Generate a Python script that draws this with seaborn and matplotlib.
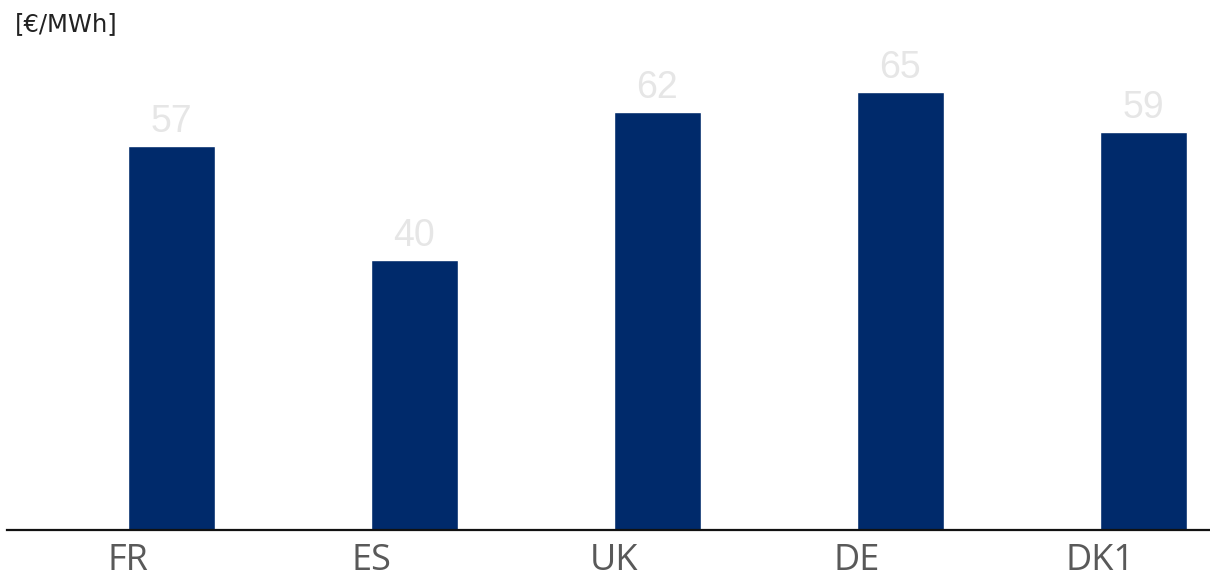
import matplotlib
matplotlib.use("Agg")
import matplotlib.pyplot as plt
import seaborn as sns
import pandas as pd

# Average price per market
markets = ["FR", "ES", "UK", "DE", "DK1"]
prices = [57, 40, 62, 65, 59]
unit_label = "[€/MWh]"

bar_color = "#002A6B"
value_color = "#E6E6E6"
tick_color = "#595959"
bar_width = 0.358

sns.set_theme(style="white")
plt.rcParams["font.family"] = ["Open Sans", "DejaVu Sans"]

df = pd.DataFrame({"market": markets, "price": prices})

fig = plt.figure(figsize=(12.10, 5.79), dpi=100)
ax = fig.add_axes([7 / 1210, (579 - 529.5) / 579, 1 - 7 / 1210, 529.5 / 579])

sns.barplot(data=df, x="market", y="price", color=bar_color, width=bar_width,
            saturation=1, ax=ax, order=markets)

ax.set_xlim(-0.677, len(markets) - 1 + 0.274)
ax.set_ylim(0, 78.6)

for c in ax.containers:
    ax.bar_label(c, labels=[f"{v:g}" for v in prices], padding=4,
                 color=value_color, fontsize=27, family="Liberation Sans")

# category names sit under the left edge of each bar
ax.set_xticks([i - bar_width / 2 for i in range(len(markets))])
ax.set_xticklabels(markets, fontsize=26, color=tick_color)
ax.tick_params(axis="x", length=0, pad=10)
ax.set_yticks([])
ax.set_xlabel("")
ax.set_ylabel("")

for side in ["top", "right", "left"]:
    ax.spines[side].set_visible(False)
ax.spines["bottom"].set_color("#111111")
ax.spines["bottom"].set_linewidth(1.6)

fig.text(15 / 1210, 1 - 12 / 579, unit_label, ha="left", va="top",
         fontsize=17.5, color="#222222", family="DejaVu Sans")

fig.savefig("out.png", dpi=100)
